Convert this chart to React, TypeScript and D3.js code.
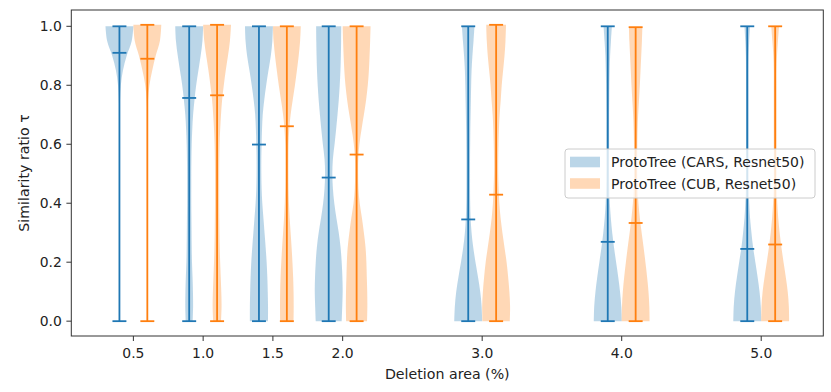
import React, { useEffect, useRef } from 'react';
import * as d3 from 'd3';

// deletion areas (%) on the x axis
const positions = [0.5, 1.0, 1.5, 2.0, 3.0, 4.0, 5.0];
const xTickLabels = ['0.5', '1.0', '1.5', '2.0', '3.0', '4.0', '5.0'];
const yTicks = [0, 0.2, 0.4, 0.6, 0.8, 1.0];
const yTickLabels = ['0.0', '0.2', '0.4', '0.6', '0.8', '1.0'];

const seriesNames = ['ProtoTree (CARS, Resnet50)', 'ProtoTree (CUB, Resnet50)'];

// means / extremes per violin
const carsMeans = [0.91, 0.757, 0.599, 0.487, 0.345, 0.269, 0.245];
const cubMeans = [0.89, 0.766, 0.661, 0.565, 0.429, 0.333, 0.26];
const carsMin = [0, 0, 0, 0, 0, 0, 0];
const carsMax = [1.0, 1.0, 1.0, 1.0, 1.0, 1.0, 1.0];
const cubMin = [0, 0, 0, 0, 0, 0, 0];
const cubMax = [1.005, 1.005, 1.0, 1.0, 1.005, 0.997, 1.0];

// relative violin half-width (max = 1) read at these ratio levels
const densityLevels = [0, 0.05, 0.1, 0.15, 0.2, 0.25, 0.3, 0.35, 0.4, 0.45, 0.5, 0.55, 0.6, 0.65, 0.7, 0.75, 0.8, 0.85, 0.9, 0.95, 1.0];

const carsDensity = [
  [0.03, 0.02, 0.01, 0.01, 0.01, 0.01, 0.01, 0.01, 0.01, 0.01, 0.01, 0.01, 0.01, 0.01, 0.01, 0.04, 0.1, 0.25, 0.52, 0.88, 1.0],
  [0.25, 0.28, 0.27, 0.24, 0.2, 0.18, 0.17, 0.16, 0.15, 0.15, 0.15, 0.16, 0.18, 0.22, 0.28, 0.38, 0.5, 0.66, 0.82, 0.95, 1.0],
  [0.65, 0.65, 0.63, 0.6, 0.55, 0.48, 0.4, 0.32, 0.24, 0.19, 0.17, 0.17, 0.19, 0.22, 0.27, 0.38, 0.52, 0.68, 0.85, 0.96, 1.0],
  [0.93, 0.97, 1.0, 0.98, 0.93, 0.85, 0.72, 0.55, 0.4, 0.3, 0.26, 0.3, 0.42, 0.53, 0.63, 0.72, 0.79, 0.84, 0.87, 0.89, 0.9],
  [1.0, 0.96, 0.86, 0.7, 0.52, 0.36, 0.24, 0.17, 0.14, 0.13, 0.13, 0.13, 0.14, 0.15, 0.17, 0.19, 0.21, 0.24, 0.3, 0.38, 0.45],
  [1.0, 0.97, 0.88, 0.75, 0.6, 0.45, 0.32, 0.22, 0.15, 0.12, 0.1, 0.1, 0.1, 0.1, 0.1, 0.11, 0.12, 0.14, 0.17, 0.23, 0.3],
  [1.0, 0.97, 0.88, 0.74, 0.58, 0.42, 0.3, 0.2, 0.14, 0.1, 0.09, 0.09, 0.09, 0.09, 0.09, 0.09, 0.09, 0.09, 0.1, 0.14, 0.2],
];

const cubDensity = [
  [0.03, 0.02, 0.015, 0.015, 0.015, 0.015, 0.015, 0.015, 0.015, 0.015, 0.015, 0.015, 0.015, 0.015, 0.015, 0.05, 0.15, 0.35, 0.6, 0.9, 1.0],
  [0.28, 0.32, 0.3, 0.26, 0.22, 0.19, 0.17, 0.16, 0.15, 0.15, 0.15, 0.16, 0.18, 0.22, 0.28, 0.36, 0.48, 0.62, 0.78, 0.92, 1.0],
  [0.48, 0.49, 0.48, 0.45, 0.4, 0.34, 0.27, 0.2, 0.15, 0.12, 0.11, 0.11, 0.12, 0.17, 0.27, 0.42, 0.58, 0.72, 0.85, 0.95, 1.0],
  [0.75, 0.77, 0.76, 0.73, 0.7, 0.64, 0.52, 0.38, 0.22, 0.13, 0.11, 0.12, 0.2, 0.35, 0.52, 0.68, 0.8, 0.88, 0.93, 0.97, 1.0],
  [0.98, 1.0, 0.95, 0.86, 0.75, 0.6, 0.45, 0.32, 0.23, 0.18, 0.15, 0.15, 0.17, 0.2, 0.25, 0.33, 0.4, 0.5, 0.6, 0.67, 0.71],
  [1.0, 0.98, 0.92, 0.82, 0.7, 0.57, 0.43, 0.3, 0.2, 0.14, 0.12, 0.12, 0.12, 0.14, 0.18, 0.24, 0.3, 0.35, 0.4, 0.45, 0.48],
  [1.0, 0.98, 0.9, 0.76, 0.6, 0.45, 0.32, 0.22, 0.15, 0.11, 0.1, 0.1, 0.1, 0.1, 0.1, 0.1, 0.1, 0.1, 0.13, 0.2, 0.28],
];

const ViolinChart = () => {
  const chartRef = useRef<HTMLDivElement>(null);

  useEffect(() => {
    const width = 831;
    const height = 392;
    const font = 'DejaVu Sans, sans-serif';
    const textColor = '#222';

    d3.select(chartRef.current).selectAll('svg').remove();

    const svg = d3.select(chartRef.current)
      .append('svg')
      .attr('width', width)
      .attr('height', height)
      .style('position', 'absolute')
      .style('left', '0px')
      .style('top', '0px')
      .style('background', '#fff');

    const x = d3.scaleLinear().domain([0.055, 5.445]).range([71.3, 823.3]);
    const y = d3.scaleLinear().domain([-0.0503, 1.0553]).range([336, 10]);

    const violinWidth = 0.2; // data units
    const offset = 0.1;

    const series = [
      { color: '#1f77b4', shift: -offset, means: carsMeans, mins: carsMin, maxs: carsMax, dens: carsDensity },
      { color: '#ff7f0e', shift: offset, means: cubMeans, mins: cubMin, maxs: cubMax, dens: cubDensity },
    ];

    // violin bodies
    series.forEach(s => {
      positions.forEach((p, i) => {
        const c = p + s.shift;
        const lo = s.mins[i];
        const hi = s.maxs[i];
        const pts = densityLevels.map((v, k) => ({
          v: k === densityLevels.length - 1 ? hi : Math.max(lo, Math.min(hi, v)),
          w: s.dens[i][k],
        }));
        const area = d3.area<{ v: number; w: number }>()
          .x0(d => x(c - (violinWidth / 2) * d.w))
          .x1(d => x(c + (violinWidth / 2) * d.w))
          .y(d => y(d.v))
          .curve(d3.curveCatmullRom);
        svg.append('path')
          .attr('d', area(pts))
          .attr('fill', s.color)
          .attr('fill-opacity', 0.3);
      });
    });

    // bars, caps, means
    series.forEach(s => {
      positions.forEach((p, i) => {
        const c = p + s.shift;
        const g = svg.append('g').attr('stroke', s.color).attr('stroke-width', 1.8);
        g.append('line')
          .attr('x1', x(c)).attr('x2', x(c))
          .attr('y1', y(s.mins[i])).attr('y2', y(s.maxs[i]));
        [s.mins[i], s.maxs[i], s.means[i]].forEach(v => {
          g.append('line')
            .attr('x1', x(c - violinWidth / 4)).attr('x2', x(c + violinWidth / 4))
            .attr('y1', y(v)).attr('y2', y(v));
        });
      });
    });

    // axes frame
    svg.append('rect')
      .attr('x', 71.3).attr('y', 10)
      .attr('width', 823.3 - 71.3).attr('height', 336 - 10)
      .attr('fill', 'none')
      .attr('stroke', '#333')
      .attr('stroke-width', 1);

    // x ticks
    positions.forEach((p, i) => {
      svg.append('line')
        .attr('x1', x(p)).attr('x2', x(p))
        .attr('y1', 336).attr('y2', 341)
        .attr('stroke', '#333');
      svg.append('text')
        .attr('x', x(p)).attr('y', 358)
        .attr('text-anchor', 'middle')
        .attr('font-family', font)
        .attr('font-size', 13.9)
        .attr('fill', textColor)
        .text(xTickLabels[i]);
    });

    // y ticks
    yTicks.forEach((t, i) => {
      svg.append('line')
        .attr('x1', 66.4).attr('x2', 71.3)
        .attr('y1', y(t)).attr('y2', y(t))
        .attr('stroke', '#333');
      svg.append('text')
        .attr('x', 61.8).attr('y', y(t))
        .attr('dy', '0.36em')
        .attr('text-anchor', 'end')
        .attr('font-family', font)
        .attr('font-size', 13.9)
        .attr('fill', textColor)
        .text(yTickLabels[i]);
    });

    // axis labels
    svg.append('text')
      .attr('x', 447.3).attr('y', 379)
      .attr('text-anchor', 'middle')
      .attr('font-family', font)
      .attr('font-size', 14.2)
      .attr('fill', textColor)
      .text('Deletion area (%)');

    svg.append('text')
      .attr('transform', 'translate(29,173) rotate(-90)')
      .attr('text-anchor', 'middle')
      .attr('font-family', font)
      .attr('font-size', 14.2)
      .attr('fill', textColor)
      .text('Similarity ratio τ');

    // legend
    const legend = svg.append('g');
    legend.append('rect')
      .attr('x', 565).attr('y', 149)
      .attr('width', 250).attr('height', 49)
      .attr('rx', 3)
      .attr('fill', '#fff')
      .attr('fill-opacity', 0.8)
      .attr('stroke', '#ccc')
      .attr('stroke-width', 1);

    series.forEach((s, i) => {
      const rowY = 162 + i * 21.5;
      legend.append('rect')
        .attr('x', 570).attr('y', rowY - 5.3)
        .attr('width', 30).attr('height', 10.6)
        .attr('fill', s.color)
        .attr('fill-opacity', 0.3);
      legend.append('text')
        .attr('x', 611).attr('y', rowY)
        .attr('dy', '0.36em')
        .attr('font-family', font)
        .attr('font-size', 14)
        .attr('fill', textColor)
        .text(seriesNames[i]);
    });
  }, []);

  return <div ref={chartRef}></div>;
};

export default function App() {
  return <ViolinChart />;
}
